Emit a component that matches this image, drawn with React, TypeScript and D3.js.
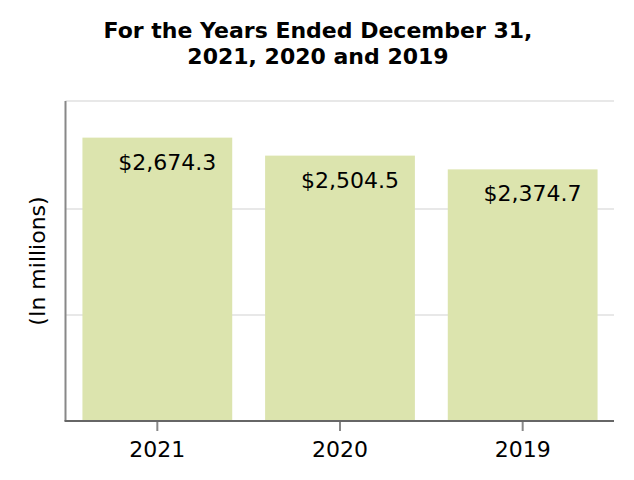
import React from "react";
import * as d3 from "d3";

const categories = ["2021", "2020", "2019"];
const values = [2674.3, 2504.5, 2374.7];
const labels = ["$2,674.3", "$2,504.5", "$2,374.7"];
const gridTicks = [1000, 2000];
const titleLines = ["For the Years Ended December 31,", "2021, 2020 and 2019"];
const yTitle = "(In millions)";

export default function App() {
  const W = 634, H = 480;
  const left = 65.5, right = 614, top = 101, bottom = 421;
  const x = d3.scaleBand<string>().domain(categories).range([66, right]).paddingInner(0.18).paddingOuter(0.09);
  const y = d3.scaleLinear().domain([0, 3020]).range([bottom, top]);
  const font = "DejaVu Sans, sans-serif";
  return (
    <svg width={W} height={H} style={{ position: "absolute", left: 0, top: 0 }} fontFamily={font}>
      <rect width={W} height={H} fill="#fff" />
      {titleLines.map((t, i) => (
        <text key={i} x={318} y={38 + i * 26} textAnchor="middle" fontWeight="bold" fontSize={22}>{t}</text>
      ))}
      <line x1={left} x2={right} y1={top} y2={top} stroke="#e8e8e8" strokeWidth={2} />
      {gridTicks.map((t) => (
        <line key={t} x1={left} x2={right} y1={y(t)} y2={y(t)} stroke="#e8e8e8" strokeWidth={2} />
      ))}
      {categories.map((c, i) => (
        <g key={c}>
          <rect x={x(c)} y={y(values[i])} width={x.bandwidth()} height={bottom - y(values[i])} fill="#dce4ae" />
          <text x={(x(c) as number) + x.bandwidth() - 16} y={y(values[i]) + 32} textAnchor="end" fontSize={22}>{labels[i]}</text>
          <line x1={(x(c) as number) + x.bandwidth() / 2} x2={(x(c) as number) + x.bandwidth() / 2} y1={bottom} y2={bottom + 10} stroke="#888" strokeWidth={2} />
          <text x={(x(c) as number) + x.bandwidth() / 2} y={457} textAnchor="middle" fontSize={22}>{c}</text>
        </g>
      ))}
      <line x1={left} x2={left} y1={top} y2={bottom} stroke="#888" strokeWidth={2} />
      <line x1={left - 1} x2={right} y1={bottom} y2={bottom} stroke="#666" strokeWidth={2} />
      <text transform={`translate(45,261) rotate(-90)`} textAnchor="middle" fontSize={22}>{yTitle}</text>
    </svg>
  );
}
